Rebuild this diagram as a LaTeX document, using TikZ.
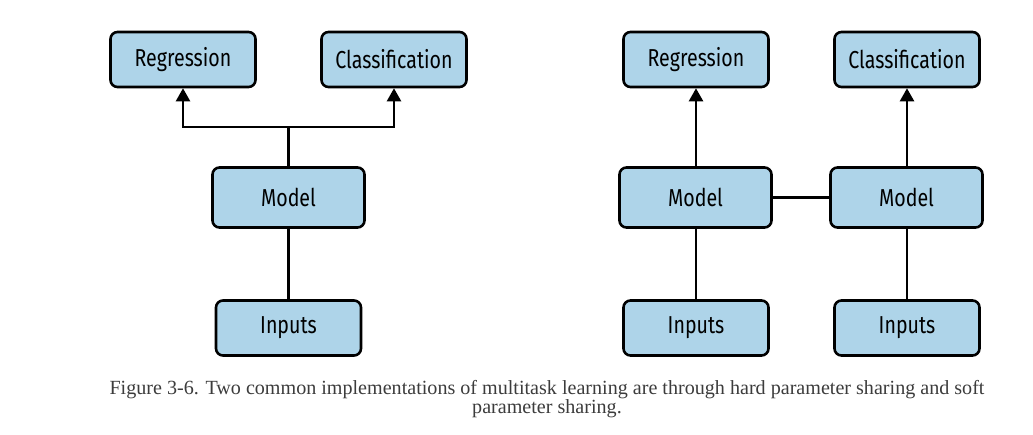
\documentclass[tikz,border=0pt]{standalone}
\usepackage{fontspec}
\setsansfont{Fira Sans}[FakeStretch=0.8]
\setmainfont{Liberation Serif}
\usetikzlibrary{arrows.meta,positioning}
\definecolor{boxBlue}{RGB}{174,212,233}
\definecolor{capGray}{RGB}{60,60,60}
\tikzset{
  taskbox/.style={draw, rounded corners=7pt, line width=2.6pt, fill=boxBlue, align=center, minimum width=145pt, minimum height=55pt, font=\sffamily\fontsize{24.5}{28}\selectfont},
  modelbox/.style={taskbox, minimum width=152pt, minimum height=60pt},
  link/.style={line width=2.4pt},
  arrow/.style={link, -{Triangle[length=13pt,width=14pt]}},
  caption/.style={align=center, text=capGray, font=\fontsize{20.1}{19}\selectfont}
}

\begin{document}
\begin{tikzpicture}[x=1pt,y=1pt]
  \useasboundingbox (0,0) rectangle (1033,434);

  % hard parameter sharing
  \node[taskbox] (hreg) at (183,374.5) {Regression};
  \node[taskbox] (hcls) at (394,374.5) {Classification};
  \node[modelbox] (hmodel) at (288.5,236.5) {Model};
  \node[taskbox] (hin) at (288.5,106) {Inputs};

  \draw[link] (hin) -- (hmodel);
  \draw[arrow] (hmodel.north) -- ++(0,39) -| (hreg.south);
  \draw[arrow] (hmodel.north) -- ++(0,39) -| (hcls.south);

  % soft parameter sharing
  \node[taskbox] (sreg) at (696,374.5) {Regression};
  \node[taskbox] (scls) at (907,374.5) {Classification};
  \node[modelbox] (smodela) at (695.5,236.5) {Model};
  \node[modelbox] (smodelb) at (906.5,236.5) {Model};
  \node[taskbox] (sina) at (696,106) {Inputs};
  \node[taskbox] (sinb) at (907,106) {Inputs};

  \draw[link] (sina) -- (sina |- smodela.south);
  \draw[link] (sinb) -- (sinb |- smodelb.south);
  \draw[link] (smodela) -- (smodelb);
  \draw[arrow] (sreg |- smodela.north) -- (sreg);
  \draw[arrow] (scls |- smodelb.north) -- (scls);

  \node[caption] (fig) at (547,34.5) {Figure 3-6. Two common implementations of multitask learning are through hard parameter sharing and soft\\parameter sharing.};
\end{tikzpicture}
\end{document}
